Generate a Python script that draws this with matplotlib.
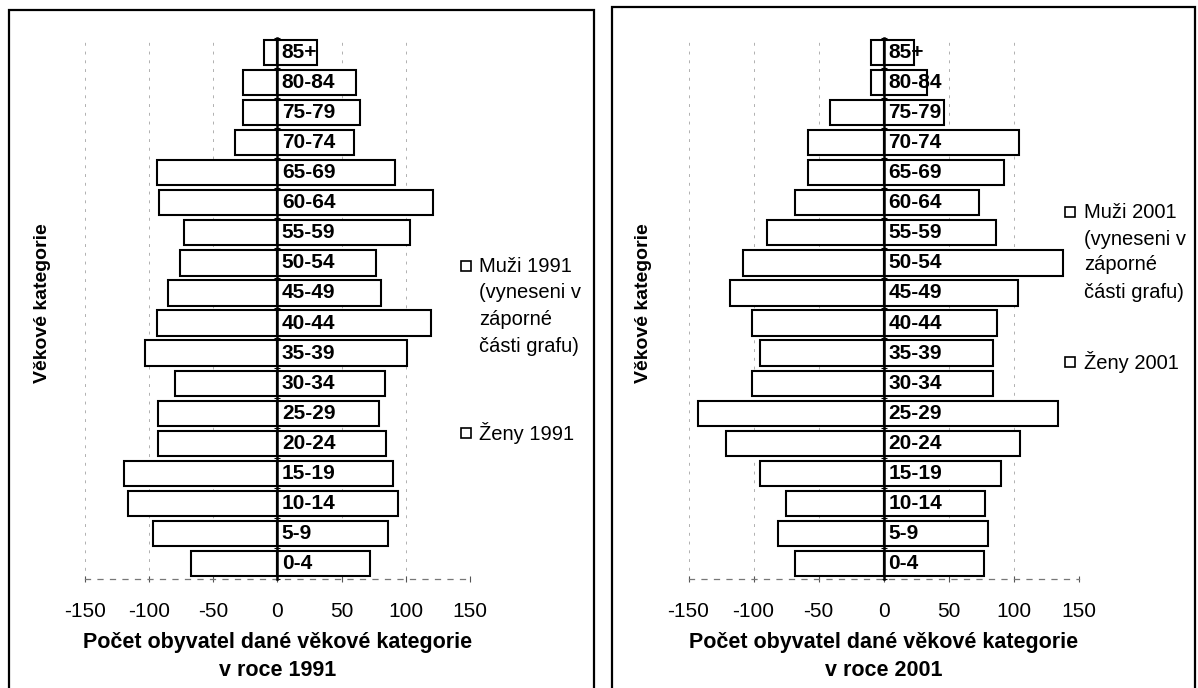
import numpy as np
import matplotlib
matplotlib.use('Agg')
import matplotlib.pyplot as plt
from matplotlib.patches import Rectangle

plt.rcParams['font.family'] = ['Liberation Sans', 'DejaVu Sans']

# vekove kategorie odspodu nahoru
vek = ['0-4', '5-9', '10-14', '15-19', '20-24', '25-29', '30-34', '35-39', '40-44',
       '45-49', '50-54', '55-59', '60-64', '65-69', '70-74', '75-79', '80-84', '85+']

# muzi se vynaseji v zaporne casti grafu
muzi_1991 = [67, 97, 116, 119, 93, 93, 80, 103, 94, 85, 76, 73, 92, 94, 33, 27, 27, 10]
zeny_1991 = [72, 86, 94, 90, 85, 79, 84, 101, 120, 81, 77, 103, 121, 92, 60, 64, 61, 31]

muzi_2001 = [68, 81, 75, 95, 121, 143, 101, 95, 101, 118, 108, 90, 68, 58, 58, 41, 10, 10]
zeny_2001 = [77, 80, 78, 90, 105, 134, 84, 84, 87, 103, 138, 86, 73, 92, 104, 46, 33, 23]

x_ticks = [-150, -100, -50, 0, 50, 100, 150]

W, H = 1198, 688


def fx(px):
    return px / W


def fy(py):
    return 1 - py / H


fig = plt.figure(figsize=(W / 100, H / 100), dpi=100)

# ramecky obou grafu
for x0, y0, x1 in [(8.5, 9.5, 594), (612, 6.5, 1195)]:
    fig.add_artist(Rectangle((fx(x0), fy(720)), fx(x1 - x0), (720 - y0) / H,
                             transform=fig.transFigure, fill=False,
                             edgecolor='black', lw=1.6))


def pyramida(ax, muzi, zeny, rok):
    y = np.arange(len(vek))
    m = -np.array(muzi)
    z = np.array(zeny)

    for xt in x_ticks:
        if xt != 0:
            ax.axvline(xt, color='#b0b0b0', lw=0.7, dashes=(3, 6), zorder=0)

    ax.barh(y, m, height=0.84, color='white', edgecolor='black', lw=1.5, zorder=2)
    ax.barh(y, z, height=0.84, color='white', edgecolor='black', lw=1.5, zorder=2)

    for i, v in enumerate(vek):
        ax.text(3.5, y[i], v, ha='left', va='center', fontsize=15,
                fontweight='bold', zorder=4)

    ax.set_xlim(-150, 150)
    ax.set_ylim(-0.5, len(vek) - 0.5)
    ax.set_xticks(x_ticks)
    ax.set_xticklabels([str(t) for t in x_ticks], fontsize=15)
    ax.tick_params(axis='x', length=4, direction='inout', width=0.8,
                   color='#555555', pad=15)

    # osa y v nule s carkami mezi kategoriemi
    ax.spines['left'].set_position(('data', 0))
    ax.spines['left'].set_linewidth(1.8)
    ax.spines['left'].set_zorder(3)
    ax.set_yticks(np.arange(-0.5, len(vek), 1))
    ax.set_yticklabels([])
    ax.tick_params(axis='y', length=5, direction='inout', width=0.8)

    ax.spines['bottom'].set_color('#777777')
    ax.spines['bottom'].set_linestyle((0, (4, 6)))
    ax.spines['bottom'].set_linewidth(0.9)
    ax.spines['top'].set_visible(False)
    ax.spines['right'].set_visible(False)
    ax.patch.set_alpha(0)

    ax.set_xlabel(f'Počet obyvatel dané věkové kategorie\nv roce {rok}',
                  fontsize=15.5, fontweight='bold', labelpad=8, linespacing=1.45)


ax1 = fig.add_axes([fx(84.6), fy(578.5), fx(385.4), 541 / H])
pyramida(ax1, muzi_1991, zeny_1991, 1991)

ax2 = fig.add_axes([fx(688.5), fy(578.5), fx(390.5), 541 / H])
pyramida(ax2, muzi_2001, zeny_2001, 2001)

# popisky osy y
for xp in (43, 644):
    fig.text(fx(xp), fy(303), 'Věkové kategorie', rotation=90, ha='center',
             va='center', fontsize=14, fontweight='bold')


def legenda(xs, xt, y_lines, y_zeny, rok):
    radky = [f'Muži {rok}', '(vyneseni v', 'záporné', 'části grafu)']
    for r, yy in zip(radky, y_lines):
        fig.text(fx(xt), fy(yy), r, ha='left', va='center', fontsize=14.5)
    fig.text(fx(xt), fy(y_zeny), f'Ženy {rok}', ha='left', va='center', fontsize=14.5)
    for yy in (y_lines[0], y_zeny):
        fig.add_artist(Rectangle((fx(xs), fy(yy + 5)), fx(10), 10 / H,
                                 transform=fig.transFigure, fill=False,
                                 edgecolor='black', lw=1.2))


legenda(461, 479, [266, 293, 320, 347], 433, 1991)
legenda(1065, 1084, [212, 239, 265, 292], 362, 2001)

fig.savefig('out.png', dpi=100)
